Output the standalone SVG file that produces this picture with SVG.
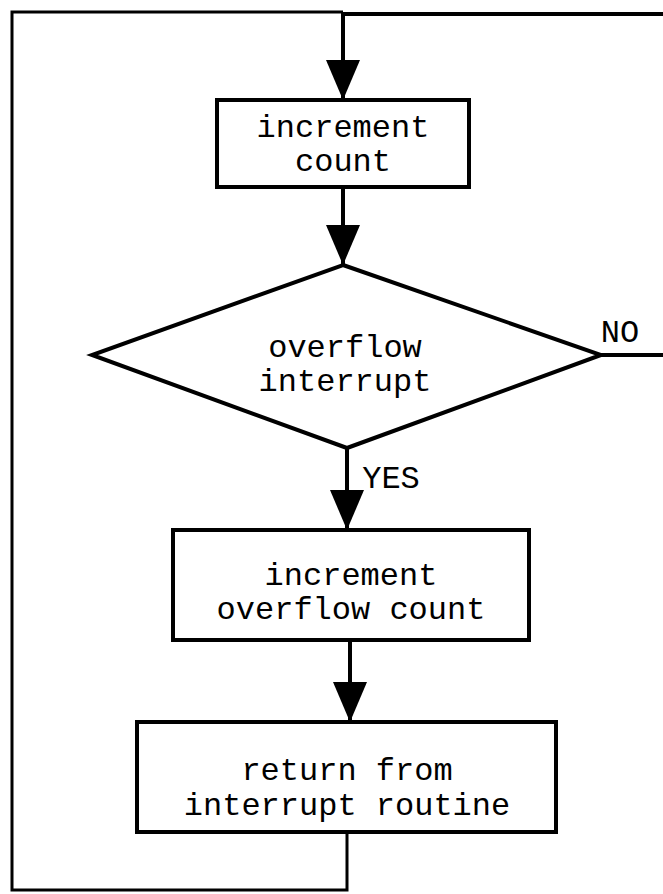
<svg xmlns="http://www.w3.org/2000/svg" width="663" height="894" viewBox="0 0 663 894">
<style>
.shape{fill:#fff;stroke:#000;stroke-width:4}
.line{fill:none;stroke:#000;stroke-width:4}
.thin{fill:none;stroke:#000;stroke-width:3}
text{font-family:"Liberation Mono","Courier New",monospace;font-size:32px;fill:#000;text-anchor:middle}
</style>
<defs>
<marker id="ah" markerUnits="userSpaceOnUse" markerWidth="40" markerHeight="34" refX="40" refY="17" orient="auto">
<path d="M0,0 L40,17 L0,34 z" fill="#000"/>
</marker>
</defs>
<rect width="663" height="894" fill="#fff"/>
<g id="connectors">
<polyline class="thin" points="347,832 347,890 12,890 12,12 343,12"/>
<polyline class="line" points="663,355 601,355"/>
<polyline class="line" points="663,14 343,14 343,100" marker-end="url(#ah)"/>
<line class="line" x1="343" y1="187" x2="343" y2="265" marker-end="url(#ah)"/>
<line class="line" x1="347" y1="448" x2="347" y2="530" marker-end="url(#ah)"/>
<line class="line" x1="350" y1="640" x2="350" y2="722" marker-end="url(#ah)"/>
<text x="620" y="342">NO</text>
<text x="391" y="488">YES</text>
</g>
<g id="node-increment-count">
<rect class="shape" x="217" y="100" width="252" height="87"/>
<text x="343" y="137">increment</text>
<text x="343" y="171">count</text>
</g>
<g id="node-overflow-interrupt">
<polygon class="shape" points="343,265 601,355 347,448 92,355"/>
<text x="345" y="357">overflow</text>
<text x="345" y="391">interrupt</text>
</g>
<g id="node-increment-overflow-count">
<rect class="shape" x="173" y="530" width="356" height="110"/>
<text x="351" y="585">increment</text>
<text x="351" y="619">overflow count</text>
</g>
<g id="node-return">
<rect class="shape" x="137" y="722" width="419" height="110"/>
<text x="347" y="780">return from</text>
<text x="347" y="815">interrupt routine</text>
</g>
</svg>
